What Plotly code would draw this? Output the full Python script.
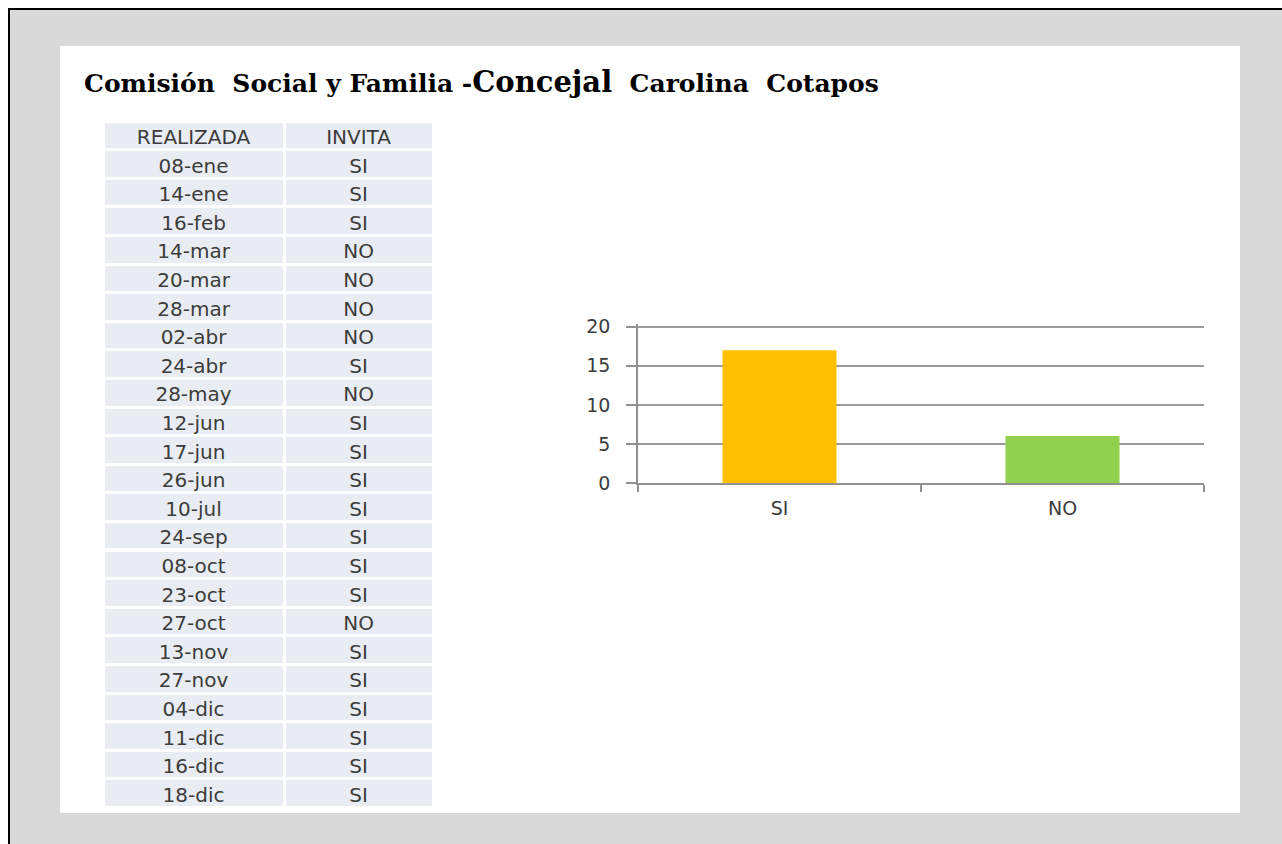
import plotly.graph_objects as go

# ---- data ----
fechas = ["08-ene", "14-ene", "16-feb", "14-mar", "20-mar", "28-mar", "02-abr",
          "24-abr", "28-may", "12-jun", "17-jun", "26-jun", "10-jul", "24-sep",
          "08-oct", "23-oct", "27-oct", "13-nov", "27-nov", "04-dic", "11-dic",
          "16-dic", "18-dic"]
invita = ["SI", "SI", "SI", "NO", "NO", "NO", "NO", "SI", "NO", "SI", "SI",
          "SI", "SI", "SI", "SI", "SI", "NO", "SI", "SI", "SI", "SI", "SI", "SI"]
encabezados = ["REALIZADA", "INVITA"]
categorias = ["SI", "NO"]
totales = [17, 6]
colores = ["#FFC000", "#92D050"]

W, H = 1282, 844


def px(x):
    return x / W


def py(y):
    return 1 - y / H


fig = go.Figure()

fig.add_trace(go.Table(
    domain=dict(x=[px(103), px(433)], y=[py(814), py(121)]),
    columnwidth=[180, 148],
    header=dict(values=encabezados, fill_color="#e9edf3",
                line=dict(color="white", width=3), align="center",
                height=28.6,
                font=dict(family="DejaVu Sans", size=20, color="#3c3c3c")),
    cells=dict(values=[fechas, invita], fill_color="#e9edf3",
               line=dict(color="white", width=3), align="center",
               height=28.6,
               font=dict(family="DejaVu Sans", size=20, color="#3c3c3c")),
))

fig.add_trace(go.Bar(
    x=categorias, y=totales, marker=dict(color=colores, line=dict(width=0)),
    width=0.403, showlegend=False, hoverinfo="skip",
))

shapes = [
    dict(type="rect", xref="paper", yref="paper", x0=0, x1=1, y0=py(8), y1=1,
         fillcolor="white", line=dict(width=0), layer="below"),
    dict(type="rect", xref="paper", yref="paper", x0=0, x1=px(8), y0=0, y1=1,
         fillcolor="white", line=dict(width=0), layer="below"),
    dict(type="rect", xref="paper", yref="paper", x0=px(8), x1=1, y0=py(10), y1=py(8),
         fillcolor="black", line=dict(width=0), layer="below"),
    dict(type="rect", xref="paper", yref="paper", x0=px(8), x1=px(10), y0=0, y1=py(8),
         fillcolor="black", line=dict(width=0), layer="below"),
    dict(type="rect", xref="paper", yref="paper", x0=px(60), x1=px(1240),
         y0=py(813), y1=py(46), fillcolor="white", line=dict(width=0), layer="below"),
]

titulo = ("<b>Comisión\u00a0\u00a0Social y Familia\u00a0-"
          "<span style='font-size:29px'>Concejal</span>"
          "\u00a0\u00a0Carolina\u00a0\u00a0Cotapos</b>")

fig.update_layout(
    width=W, height=H, margin=dict(l=0, r=0, t=0, b=0, pad=0, autoexpand=False),
    paper_bgcolor="#d9d9d9", plot_bgcolor="rgba(0,0,0,0)",
    shapes=shapes, showlegend=False,
    annotations=[dict(text=titulo, xref="paper", yref="paper", x=px(82), y=py(82),
                      xanchor="left", yanchor="middle", showarrow=False,
                      font=dict(family="DejaVu Serif", size=25, color="black"))],
    xaxis=dict(domain=[px(638), px(1204)], showline=True, linecolor="#909090",
               linewidth=1.5, ticks="outside", tickson="boundaries", ticklen=7,
               tickcolor="#909090", tickwidth=1.5, showgrid=False,
               tickfont=dict(family="DejaVu Sans", size=19, color="#3c3c3c"),
               ticklabelstandoff=7, fixedrange=True),
    yaxis=dict(domain=[py(483), py(323.57)], range=[0, 20.4],
               tickvals=[0, 5, 10, 15, 20],
               showline=True, linecolor="#909090", linewidth=1.5,
               ticks="outside", ticklen=10, tickcolor="#909090", tickwidth=1.5,
               showgrid=True, gridcolor="#9a9a9a", gridwidth=1.5, zeroline=False,
               tickfont=dict(family="DejaVu Sans", size=19, color="#3c3c3c"),
               ticklabelstandoff=12, fixedrange=True),
)

fig.write_html("out.html", config={"displayModeBar": False},
               post_script="document.body.style.margin='0';document.body.style.overflow='hidden';")
